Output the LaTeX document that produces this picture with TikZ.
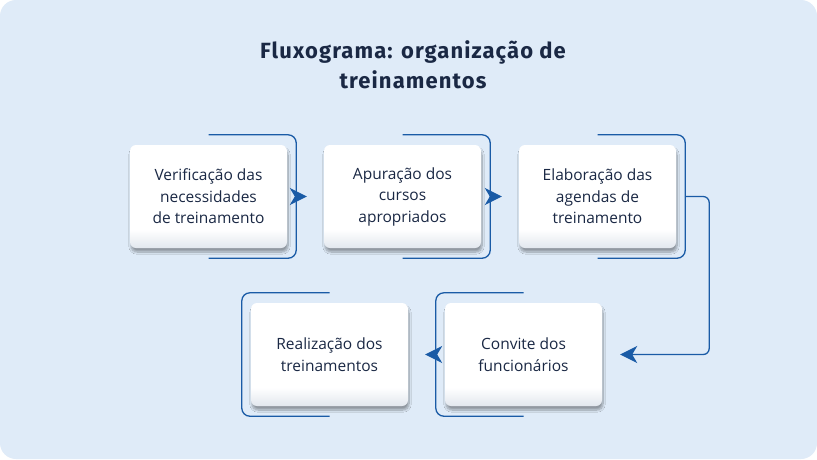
\documentclass[tikz,border=0pt]{standalone}
\usepackage{fontspec}
\setmainfont{Open Sans}
\newfontfamily\titlefont[LetterSpace=5]{Fira Sans}
\usetikzlibrary{arrows.meta,shadows.blur}

\definecolor{bgblue}{HTML}{DFEBF8}
\definecolor{lineblue}{HTML}{1A5BA6}
\definecolor{inkblue}{HTML}{1A2844}
\definecolor{boxgray}{HTML}{E2E7EE}
\pgfdeclareverticalshading{boxshade}{100bp}{color(0bp)=(boxgray); color(25bp)=(boxgray); color(34bp)=(white); color(100bp)=(white)}

\tikzset{
  stepbox/.style={rounded corners=6pt, shading=boxshade, minimum width=157pt, minimum height=103pt,
    align=center, text=inkblue, font=\fontsize{15.5}{21.5}\selectfont,
    blur shadow={shadow xshift=1pt, shadow yshift=-4pt, shadow blur steps=10, shadow opacity=35}},
  bracket/.style={draw=lineblue, line width=1.3pt, rounded corners=8pt},
  flow/.style={draw=lineblue, line width=1.3pt, -{Stealth[length=17pt, width=17pt, inset=5pt]}}
}

\begin{document}
\begin{tikzpicture}[x=1pt, y=-1pt]
    \fill[white] (0,0) rectangle (817,459);
    \fill[bgblue, rounded corners=16pt] (0,0) rectangle (817,459);

    \node[text=inkblue, align=center, font=\titlefont\bfseries\fontsize{22}{29.5}\selectfont] (title) at (413,65) {Fluxograma: organização de\\treinamentos};

    \node[stepbox] (verif) at (208.5,196.5) {Verificação das\\necessidades\\de treinamento};
    \node[stepbox] (apur) at (402.5,196.5) {Apuração dos\\cursos\\apropriados};
    \node[stepbox] (elab) at (597.5,196.5) {Elaboração das\\agendas de\\treinamento};
    \node[stepbox] (conv) at (523.5,354.5) {Convite dos\\funcionários};
    \node[stepbox] (real) at (329.5,354.5) {Realização dos\\treinamentos};

    % brackets
    \draw[bracket] ([yshift=10pt]verif.north) -| ([xshift=9pt]verif.east) |- ([yshift=-10pt]verif.south);
    \draw[bracket] ([yshift=10pt]apur.north) -| ([xshift=9pt]apur.east) |- ([yshift=-10pt]apur.south);
    \draw[bracket] ([yshift=10pt]elab.north) -| ([xshift=9pt]elab.east) |- ([yshift=-10pt]elab.south);
    \draw[bracket] ([yshift=10pt]conv.north) -| ([xshift=-9pt]conv.west) |- ([yshift=-10pt]conv.south);
    \draw[bracket] ([yshift=10pt]real.north) -| ([xshift=-9pt]real.west) |- ([yshift=-10pt]real.south);

    % arrows
    \draw[flow, shorten >=17pt] ([xshift=9pt]verif.east) -- (apur.west);
    \draw[flow, shorten >=17pt] ([xshift=9pt]apur.east) -- (elab.west);
    \draw[flow, rounded corners=6pt] ([xshift=9pt]elab.east) -- ++(24,0) |- ([xshift=18pt]conv.east);
    \draw[flow, shorten >=17pt] ([xshift=-9pt]conv.west) -- (real.east);
\end{tikzpicture}
\end{document}
